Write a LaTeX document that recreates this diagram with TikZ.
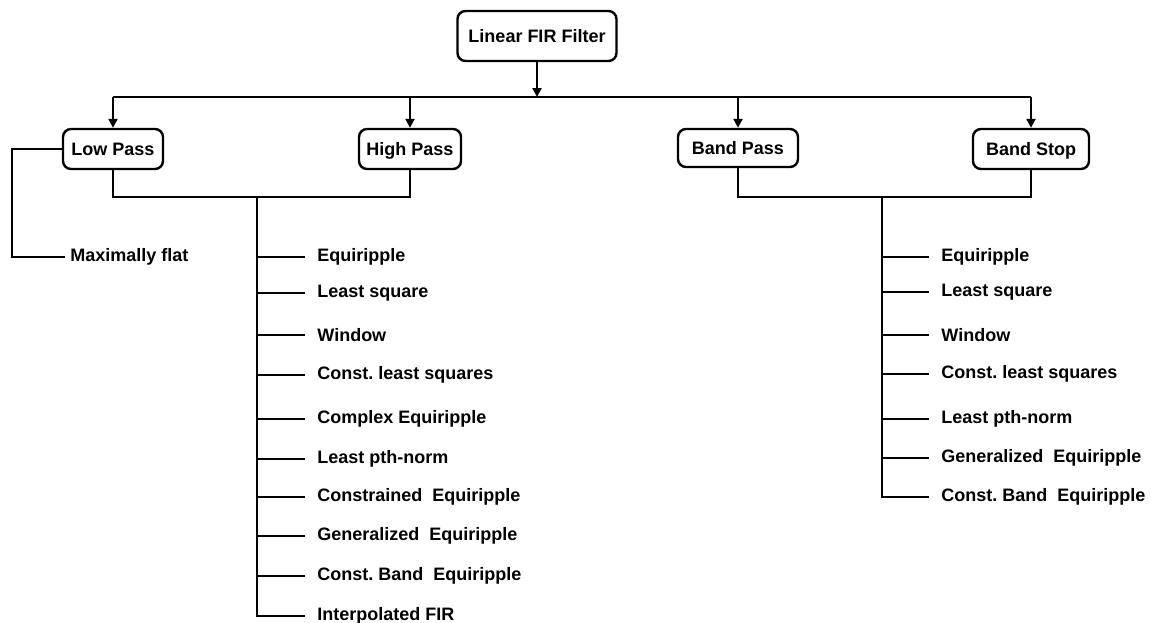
\documentclass[tikz,border=0pt]{standalone}
\usepackage{fontspec}
\setmainfont{Liberation Sans}
\usetikzlibrary{arrows.meta,positioning}

\begin{document}
\frenchspacing
\begin{tikzpicture}[
  x=0.5pt, y=-0.5pt,
  font=\fontsize{9}{10}\selectfont\bfseries,
  box/.style={draw=black, line width=1.2pt, rounded corners=4pt, align=center, inner sep=0pt, minimum height=20pt, text height=6.6pt, text depth=0pt},
  item/.style={anchor=west, inner xsep=6pt, inner ysep=0pt},
  link/.style={line width=1.2pt},
  edge/.style={-{Triangle[length=4.5pt,width=4.5pt]}, line width=1.2pt}
]
  \useasboundingbox (0,0) rectangle (1151,622);

  \node[box, minimum width=79.5pt, minimum height=25pt] (fir) at (537,36) {Linear FIR Filter};
  \node[box, minimum width=50pt] (low) at (113,149) {Low Pass};
  \node[box, minimum width=51pt] (high) at (410,149) {High Pass};
  \node[box, minimum width=60pt, minimum height=19pt] (bandpass) at (738,148) {Band Pass};
  \node[box, minimum width=58pt] (bandstop) at (1031,149) {Band Stop};

  \coordinate (bus) at (537,97);
  \coordinate (lhub) at (257,197);
  \coordinate (rhub) at (882,197);
  \coordinate (lcorner) at (12,257);

  % low pass only
  \node[item, inner xsep=2.5pt] (maxflat) at (65,257) {Maximally flat};

  % low pass / high pass methods
  \node[item] (leq) at (305,257) {Equiripple};
  \node[item] (lls) at (305,293) {Least square};
  \node[item] (lwin) at (305,335) {Window};
  \node[item] (lcls) at (305,375) {Const. least squares};
  \node[item] (lceq) at (305,419) {Complex Equiripple};
  \node[item] (lpth) at (305,459) {Least pth-norm};
  \node[item] (lconeq) at (305,497) {Constrained\ \ Equiripple};
  \node[item] (lgeq) at (305,536) {Generalized\ \ Equiripple};
  \node[item] (lcbeq) at (305,576) {Const. Band\ \ Equiripple};
  \node[item] (lifir) at (305,616) {Interpolated FIR};

  % band pass / band stop methods
  \node[item] (req) at (929,257) {Equiripple};
  \node[item] (rls) at (929,292) {Least square};
  \node[item] (rwin) at (929,335) {Window};
  \node[item] (rcls) at (929,374) {Const. least squares};
  \node[item] (rpth) at (929,419) {Least pth-norm};
  \node[item] (rgeq) at (929,458) {Generalized\ \ Equiripple};
  \node[item] (rcbeq) at (929,497) {Const. Band\ \ Equiripple};

  \draw[edge] (fir) -- (bus);
  \draw[link] (low.north |- bus) -- (bandstop.north |- bus);
  \draw[edge] (low.north |- bus) -- (low.north);
  \draw[edge] (high.north |- bus) -- (high.north);
  \draw[edge] (bandpass.north |- bus) -- (bandpass.north);
  \draw[edge] (bandstop.north |- bus) -- (bandstop.north);

  \draw[link] (low.west) -| (lcorner) -- (maxflat.west);

  \draw[link] (low.south) |- (lhub) -| (high.south);
  \draw[link] (lhub) |- (lifir.west);
  \draw[link] (lhub |- leq.west) -- (leq.west);
  \draw[link] (lhub |- lls.west) -- (lls.west);
  \draw[link] (lhub |- lwin.west) -- (lwin.west);
  \draw[link] (lhub |- lcls.west) -- (lcls.west);
  \draw[link] (lhub |- lceq.west) -- (lceq.west);
  \draw[link] (lhub |- lpth.west) -- (lpth.west);
  \draw[link] (lhub |- lconeq.west) -- (lconeq.west);
  \draw[link] (lhub |- lgeq.west) -- (lgeq.west);
  \draw[link] (lhub |- lcbeq.west) -- (lcbeq.west);

  \draw[link] (bandpass.south) |- (rhub) -| (bandstop.south);
  \draw[link] (rhub) |- (rcbeq.west);
  \draw[link] (rhub |- req.west) -- (req.west);
  \draw[link] (rhub |- rls.west) -- (rls.west);
  \draw[link] (rhub |- rwin.west) -- (rwin.west);
  \draw[link] (rhub |- rcls.west) -- (rcls.west);
  \draw[link] (rhub |- rpth.west) -- (rpth.west);
  \draw[link] (rhub |- rgeq.west) -- (rgeq.west);
\end{tikzpicture}
\end{document}
